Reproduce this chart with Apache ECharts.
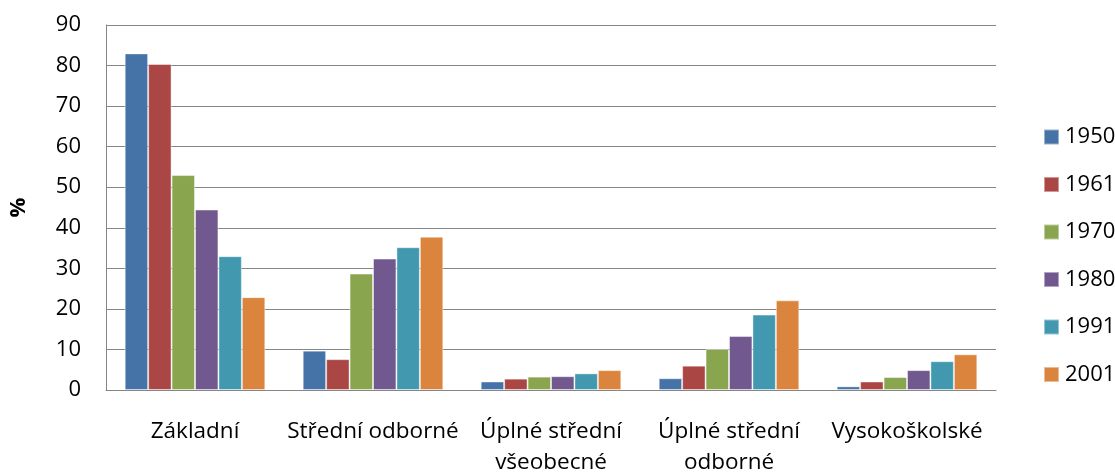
<!DOCTYPE html>
<html>
<head>
<meta charset="utf-8">
<script src="https://cdn.jsdelivr.net/npm/echarts@6/dist/echarts.min.js"></script>
<style>
  html, body { margin: 0; padding: 0; background: #fff; }
  #chart { width: 1115px; height: 476px; }
</style>
</head>
<body>
<div id="chart"></div>
<script>
// kategorie vzdělání a roky sčítání
var categories = ['Základní', 'Střední odborné', 'Úplné střední všeobecné', 'Úplné střední odborné', 'Vysokoškolské'];
var years = ['1950', '1961', '1970', '1980', '1991', '2001'];
var colors = ['#4572A7', '#AA4643', '#89A54E', '#71588F', '#4198AF', '#DB843D'];

// hodnoty v % po letech (pořadí jako categories)
var v1950 = [83.0, 9.7, 2.1, 2.9, 0.9];
var v1961 = [80.4, 7.6, 2.8, 6.0, 2.1];
var v1970 = [53.0, 28.7, 3.3, 10.1, 3.2];
var v1980 = [44.5, 32.4, 3.4, 13.3, 4.9];
var v1991 = [33.0, 35.2, 4.1, 18.6, 7.1];
var v2001 = [22.9, 37.8, 4.9, 22.1, 8.8];
var values = [v1950, v1961, v1970, v1980, v1991, v2001];

var yTicks = { min: 0, max: 90, interval: 10 };

var font = '"Open Sans", sans-serif';

var chart = echarts.init(document.getElementById('chart'));
chart.setOption({
    animation: false,
    color: colors,
    grid: {
        left: 106,
        right: 119,
        top: 25,
        bottom: 86,
        outerBoundsMode: 'none'
    },
    legend: {
        orient: 'vertical',
        left: 1038,
        top: 121,
        icon: 'rect',
        itemWidth: 15,
        itemHeight: 15,
        itemGap: 25.5,
        textStyle: {
            fontFamily: font,
            fontSize: 22,
            color: '#000',
            lineHeight: 16,
            padding: [0, 0, 0, 1]
        },
        data: years
    },
    xAxis: {
        type: 'category',
        data: categories,
        axisLine: { lineStyle: { color: '#868686', width: 1 } },
        axisTick: { show: false },
        axisLabel: {
            interval: 0,
            margin: 26,
            color: '#000',
            fontFamily: font,
            fontSize: 22.5,
            lineHeight: 31,
            // dlouhé popisky se lámou za slovem "střední"
            formatter: function (v) { return v.replace('střední ', 'střední\n'); }
        }
    },
    yAxis: {
        type: 'value',
        min: yTicks.min,
        max: yTicks.max,
        interval: yTicks.interval,
        name: '%',
        nameLocation: 'middle',
        nameRotate: 90,
        nameGap: 76,
        nameTextStyle: {
            fontFamily: font,
            fontSize: 22,
            fontWeight: 'bold',
            color: '#000'
        },
        axisLine: { show: true, lineStyle: { color: '#868686', width: 1 } },
        axisTick: { show: false },
        axisLabel: {
            margin: 25,
            color: '#000',
            fontFamily: font,
            fontSize: 22
        },
        splitLine: { lineStyle: { color: '#868686', width: 1 } }
    },
    series: years.map(function (y, i) {
        return {
            name: y,
            type: 'bar',
            barGap: '0%',
            barCategoryGap: '21%',
            itemStyle: {
                color: colors[i],
                borderColor: 'rgba(255,255,255,0.45)',
                borderWidth: 1
            },
            data: values[i]
        };
    })
});
</script>
</body>
</html>
